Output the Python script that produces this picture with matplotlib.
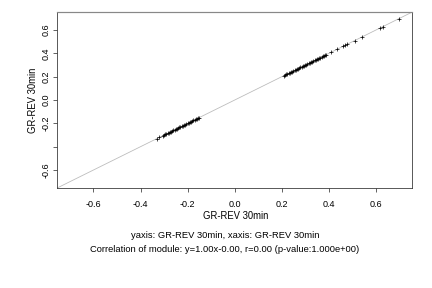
import matplotlib
matplotlib.use("Agg")
import matplotlib.pyplot as plt

plt.rcParams['font.family'] = ['Liberation Sans', 'DejaVu Sans']

# module values (x and y are the same condition)
low_cluster = [-0.33, -0.32, -0.305, -0.30, -0.295, -0.29, -0.285, -0.28, -0.275, -0.27,
               -0.265, -0.26, -0.255, -0.25, -0.245, -0.24, -0.235, -0.23, -0.225, -0.22,
               -0.215, -0.21, -0.205, -0.20, -0.195, -0.19, -0.185, -0.18, -0.175, -0.17,
               -0.165, -0.16, -0.155, -0.15]
high_cluster = [0.21, 0.215, 0.22, 0.225, 0.23, 0.235, 0.24, 0.245, 0.25, 0.255,
                0.26, 0.265, 0.27, 0.275, 0.28, 0.285, 0.29, 0.295, 0.30, 0.305,
                0.31, 0.315, 0.32, 0.325, 0.33, 0.335, 0.34, 0.345, 0.35, 0.355,
                0.36, 0.365, 0.37, 0.375, 0.38, 0.385, 0.39, 0.41, 0.435, 0.46,
                0.47, 0.48, 0.51, 0.54, 0.62, 0.63, 0.70]
x_vals = low_cluster + high_cluster
y_vals = low_cluster + high_cluster

xticks = [-0.6, -0.4, -0.2, 0.0, 0.2, 0.4, 0.6]
xticklabels = ["-0.6", "-0.4", "-0.2", "0.0", "0.2", "0.4", "0.6"]
yticks = [-0.6, -0.4, -0.2, 0.0, 0.2, 0.4, 0.6]
yticklabels = ["-0.6", "", "-0.2", "0.0", "0.2", "0.4", "0.6"]
lim = (-0.755, 0.755)

fig = plt.figure(figsize=(6, 4), dpi=72)
ax = fig.add_axes([0.132, 0.347, 0.822, 0.611])

ax.plot(lim, lim, color='#bbbbbb', linewidth=0.8, zorder=1)
ax.scatter(x_vals, y_vals, marker='+', s=14, color='black', linewidths=0.7, zorder=2)

ax.set_xlim(lim)
ax.set_ylim(lim)
ax.set_xticks(xticks)
ax.set_xticklabels(xticklabels, fontsize=9)
ax.set_yticks(yticks)
ax.set_yticklabels(yticklabels, fontsize=9, rotation=90, va='center')
ax.tick_params(direction='out', length=4, width=0.6)
ax.tick_params(axis='x', pad=8)
ax.tick_params(axis='y', pad=2)
for side in ['left', 'bottom', 'right']:
    ax.spines[side].set_color('#333333')
    ax.spines[side].set_linewidth(0.8)
ax.spines['top'].set_color('#888888')
ax.spines['top'].set_linewidth(1.2)

ax.set_ylabel("GR-REV 30min", fontsize=9.5, labelpad=4)
fig.text(0.545, 0.25, "GR-REV 30min", fontsize=9.5, ha='center', va='center')
fig.text(0.521, 0.181, "yaxis: GR-REV 30min, xaxis: GR-REV 30min", fontsize=9.4, ha='center', va='center')
fig.text(0.521, 0.132, "Correlation of module: y=1.00x-0.00, r=0.00 (p-value:1.000e+00)",
         fontsize=9.4, ha='center', va='center')

fig.savefig("out.png", dpi=72)
